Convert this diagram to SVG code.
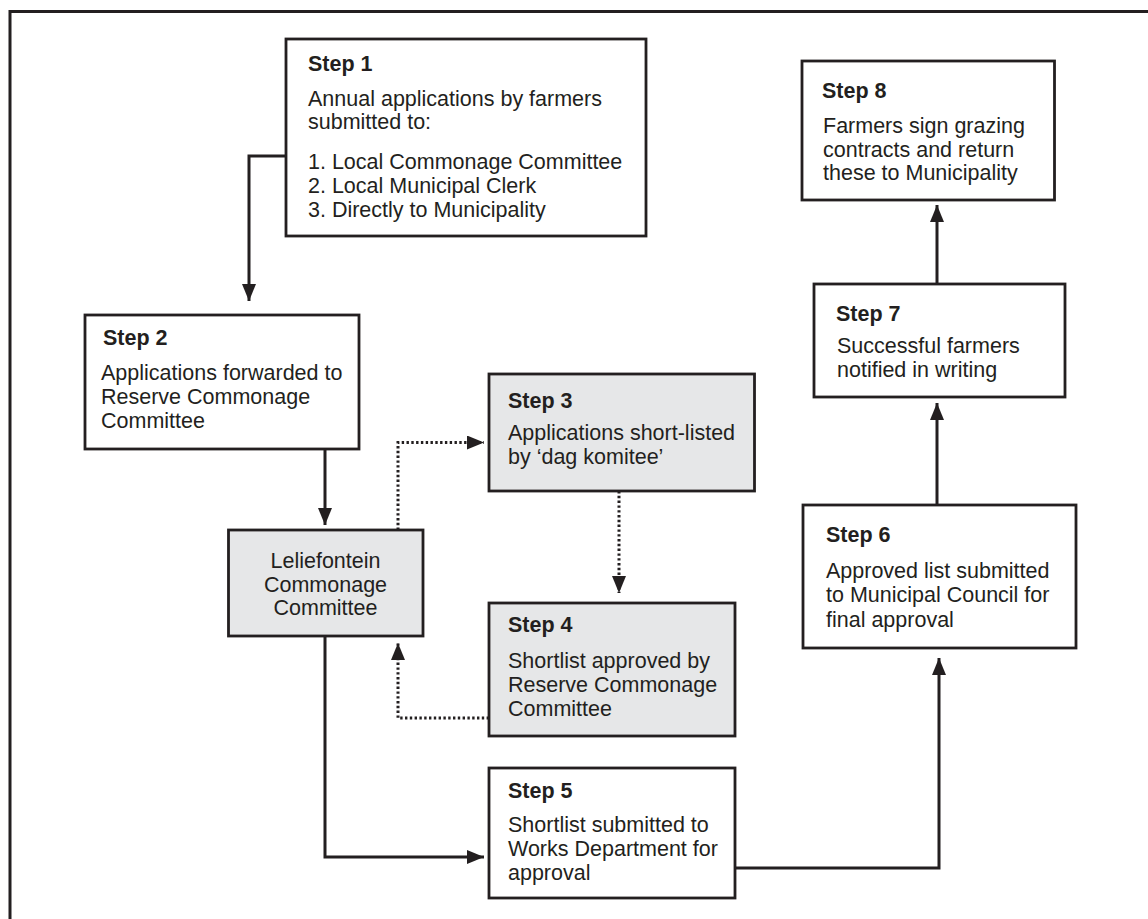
<svg xmlns="http://www.w3.org/2000/svg" width="1148" height="919" viewBox="0 0 1148 919">
  <style>
    .box { fill: #ffffff; stroke: #231f20; stroke-width: 2.8; }
    .gray { fill: #e6e7e8; }
    .t { font-family: "Liberation Sans", Arial, sans-serif; font-size: 21.5px; fill: #231f20; }
    .h { font-weight: bold; }
    .c { text-anchor: middle; }
    .ln { fill: none; stroke: #231f20; stroke-width: 3; }
    .dot { fill: none; stroke: #231f20; stroke-width: 3; stroke-dasharray: 2.4 2.4; }
  </style>
  <defs>
    <marker id="arr" markerUnits="userSpaceOnUse" markerWidth="17" markerHeight="14" viewBox="0 0 17 14" refX="17" refY="7" orient="auto">
      <path d="M0,0 L17,7 L0,14 Z" fill="#231f20"/>
    </marker>
  </defs>
  <rect x="0" y="0" width="1148" height="919" fill="#ffffff"/>
  <path d="M10,930 V11.5 H1160" fill="none" stroke="#231f20" stroke-width="3"/>

  <g id="connectors">
    <path class="ln" d="M286,156 H249 V301" marker-end="url(#arr)"/>
    <path class="ln" d="M325,449 V525" marker-end="url(#arr)"/>
    <path class="dot" d="M398,530 V442.5 H484" marker-end="url(#arr)"/>
    <path class="dot" d="M619,491 V593" marker-end="url(#arr)"/>
    <path class="dot" d="M489,718 H398 V643" marker-end="url(#arr)"/>
    <path class="ln" d="M325,636 V857 H484" marker-end="url(#arr)"/>
    <path class="ln" d="M735,868 H939 V658" marker-end="url(#arr)"/>
    <path class="ln" d="M937,505 V403" marker-end="url(#arr)"/>
    <path class="ln" d="M937,284 V205" marker-end="url(#arr)"/>
  </g>

  <g id="step1">
    <rect class="box" x="286" y="39" width="360" height="197"/>
    <text class="t h" x="308" y="71">Step 1</text>
    <text class="t" x="308" y="106">Annual applications by farmers</text>
    <text class="t" x="308" y="129">submitted to:</text>
    <text class="t" x="308" y="169">1. Local Commonage Committee</text>
    <text class="t" x="308" y="193">2. Local Municipal Clerk</text>
    <text class="t" x="308" y="217">3. Directly to Municipality</text>
  </g>

  <g id="step2">
    <rect class="box" x="85" y="315" width="274" height="134"/>
    <text class="t h" x="103" y="345">Step 2</text>
    <text class="t" x="101" y="380">Applications forwarded to</text>
    <text class="t" x="101" y="404">Reserve Commonage</text>
    <text class="t" x="101" y="428">Committee</text>
  </g>

  <g id="leliefontein">
    <rect class="box gray" x="228.5" y="530" width="194.5" height="106"/>
    <text class="t c" x="325.5" y="568">Leliefontein</text>
    <text class="t c" x="325.5" y="592">Commonage</text>
    <text class="t c" x="325.5" y="615">Committee</text>
  </g>

  <g id="step3">
    <rect class="box gray" x="489" y="374" width="265.5" height="117"/>
    <text class="t h" x="508" y="408">Step 3</text>
    <text class="t" x="508" y="440">Applications short-listed</text>
    <text class="t" x="508" y="464">by ‘dag komitee’</text>
  </g>

  <g id="step4">
    <rect class="box gray" x="489" y="603" width="246" height="133"/>
    <text class="t h" x="508" y="632">Step 4</text>
    <text class="t" x="508" y="668">Shortlist approved by</text>
    <text class="t" x="508" y="692">Reserve Commonage</text>
    <text class="t" x="508" y="716">Committee</text>
  </g>

  <g id="step5">
    <rect class="box" x="489" y="768" width="246" height="130"/>
    <text class="t h" x="508" y="798">Step 5</text>
    <text class="t" x="508" y="832">Shortlist submitted to</text>
    <text class="t" x="508" y="856">Works Department for</text>
    <text class="t" x="508" y="880">approval</text>
  </g>

  <g id="step6">
    <rect class="box" x="803" y="505" width="273" height="143"/>
    <text class="t h" x="826" y="542">Step 6</text>
    <text class="t" x="826" y="578">Approved list submitted</text>
    <text class="t" x="826" y="602">to Municipal Council for</text>
    <text class="t" x="826" y="627">final approval</text>
  </g>

  <g id="step7">
    <rect class="box" x="814" y="284" width="251" height="113"/>
    <text class="t h" x="836" y="321">Step 7</text>
    <text class="t" x="837" y="353">Successful farmers</text>
    <text class="t" x="837" y="377">notified in writing</text>
  </g>

  <g id="step8">
    <rect class="box" x="802" y="61" width="252.5" height="139"/>
    <text class="t h" x="822" y="98">Step 8</text>
    <text class="t" x="823" y="133">Farmers sign grazing</text>
    <text class="t" x="823" y="157">contracts and return</text>
    <text class="t" x="823" y="180">these to Municipality</text>
  </g>
</svg>
